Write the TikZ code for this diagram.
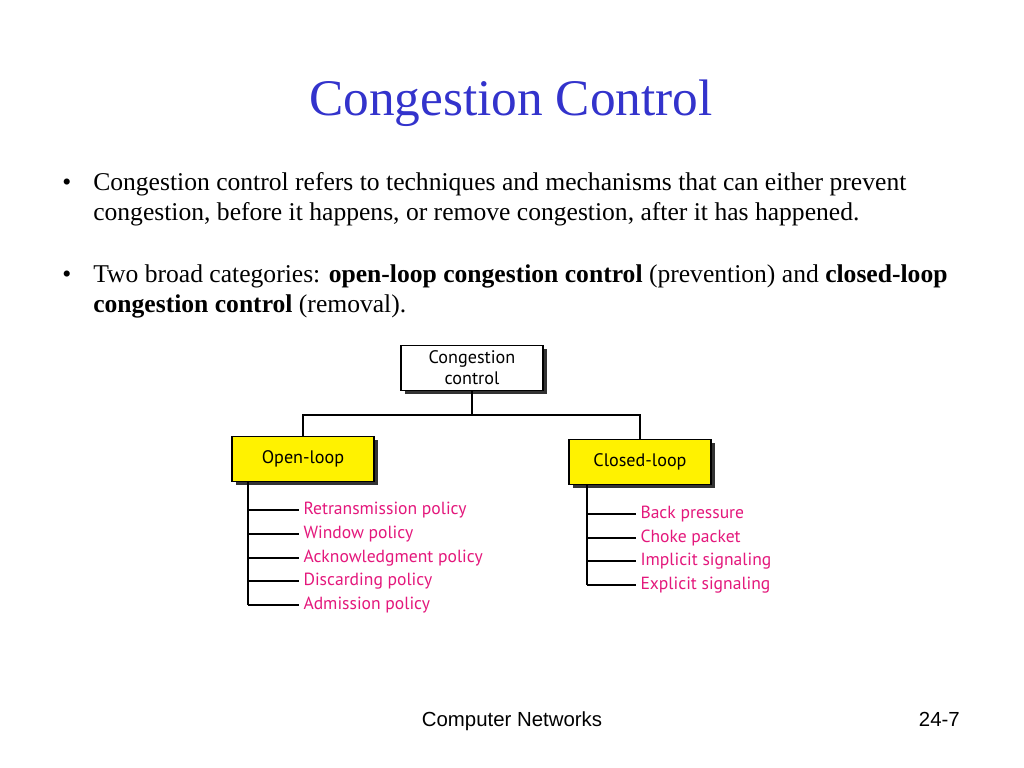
\documentclass[tikz,border=0pt]{standalone}
\usepackage{fontspec}
\setmainfont{Liberation Serif}
\newfontfamily\boxfont{PT Sans}
\newfontfamily\footfont{Liberation Sans}
\usetikzlibrary{shapes,positioning,shadows}

\definecolor{titleblue}{RGB}{51,51,204}
\definecolor{itempink}{RGB}{228,24,124}

\tikzset{
  box/.style={draw, line width=0.9pt, align=center, fill=white,
    minimum width=3.55cm, minimum height=1.12cm,
    font=\boxfont\fontsize{12.9}{14.8}\selectfont,
    drop shadow={shadow xshift=2.6pt, shadow yshift=-2.6pt, fill=black!80, opacity=1}},
  item/.style={anchor=west, inner sep=3pt, text=itempink,
    font=\boxfont\fontsize{12.5}{14}\selectfont},
  body/.style={anchor=base west, inner sep=0pt, font=\fontsize{18.2}{21}\selectfont},
  link/.style={line width=1.3pt}
}

\begin{document}
\begin{tikzpicture}[x=0.025cm, y=-0.025cm]
\useasboundingbox[fill=white] (0,0) rectangle (1024,768);

% titre
\node[anchor=base, inner sep=0pt, text=titleblue, font=\fontsize{36.5}{42}\selectfont] (title) at(511,116) {Congestion Control};

% puces
\node[body] (p1) at(62,190) {\textbullet};
\node[body] (l1a) at(93,190) {Congestion control refers to techniques and mechanisms that can either prevent};
\node[body] (l1b) at(93,220) {congestion, before it happens, or remove congestion, after it has happened.};
\node[body] (p2) at(62,282) {\textbullet};
\node[body] (l2a) at(93,282) {Two broad categories: \textbf{open-loop congestion control} (prevention) and \textbf{closed-loop}};
\node[body] (l2b) at(93,312) {\textbf{congestion control} (removal).};

% boites
\node[box] (cc) at(472,368) {Congestion\\control};
\node[box, fill=yellow] (ol) at(303,459) {Open-loop};
\node[box, fill=yellow] (cl) at(640,462) {Closed-loop};

% liens
\coordinate (bus) at(0,415);
\draw[link] (cc.south) -- (cc.south |- bus);
\draw[link] (ol.north) |- (cc.south |- bus);
\draw[link] (cl.north) |- (cc.south |- bus);

% open-loop
\coordinate (olb) at(248,0);
\node[item] (r1) at(299,510) {Retransmission policy};
\node[item] (r2) at(299,534) {Window policy};
\node[item] (r3) at(299,558) {Acknowledgment policy};
\node[item] (r4) at(299,581) {Discarding policy};
\node[item] (r5) at(299,605) {Admission policy};
\draw[link] (ol.south -| olb) -- (olb |- r5.west);
\foreach \r in {r1,r2,r3,r4,r5}
  \draw[link] (olb |- \r.west) -- (\r.west);

% closed-loop
\coordinate (clb) at(587,0);
\node[item] (s1) at(636,514) {Back pressure};
\node[item] (s2) at(636,538) {Choke packet};
\node[item] (s3) at(636,561) {Implicit signaling};
\node[item] (s4) at(636,585) {Explicit signaling};
\draw[link] (cl.south -| clb) -- (clb |- s4.west);
\foreach \s in {s1,s2,s3,s4}
  \draw[link] (clb |- \s.west) -- (\s.west);

% pied de page
\node[anchor=base, inner sep=0pt, font=\footfont\fontsize{14.5}{17}\selectfont] (foot) at(512,726) {Computer Networks};
\node[anchor=base east, inner sep=0pt, font=\footfont\fontsize{14.5}{17}\selectfont] (page) at(960,726) {24-7};

\end{tikzpicture}
\end{document}
